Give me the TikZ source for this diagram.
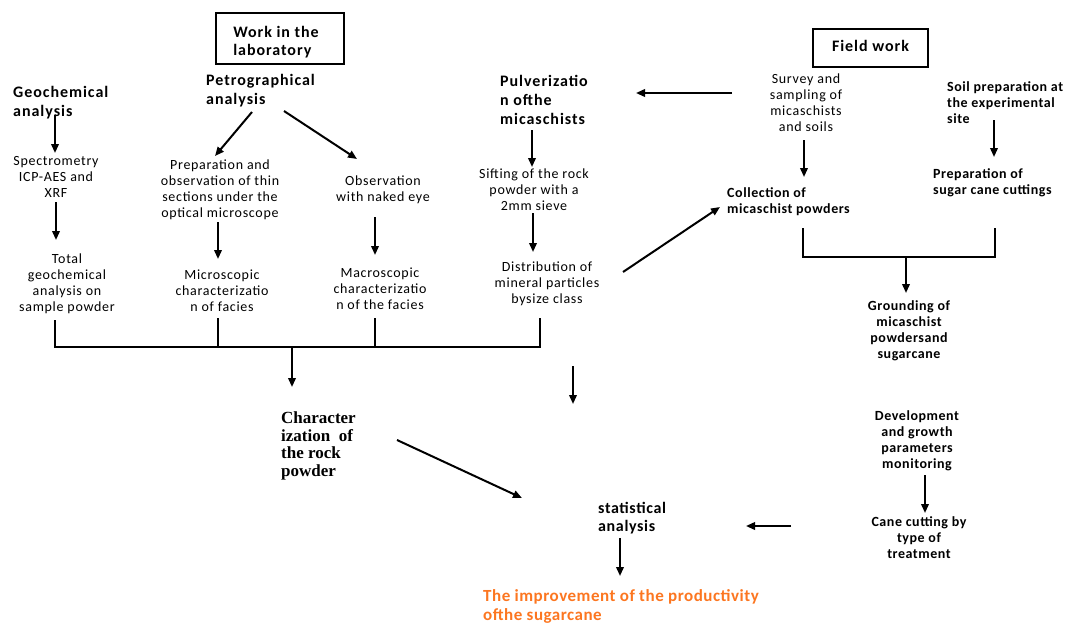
\documentclass[tikz,border=0pt]{standalone}
\usepackage{fontspec}
\usetikzlibrary{arrows.meta}
\setmainfont{Carlito}
\newfontfamily\regf[LetterSpace=5]{Carlito}
\newfontfamily\bldf[LetterSpace=4]{Carlito}
\newfontfamily\hdf[LetterSpace=6]{Carlito}
\newfontfamily\orf[LetterSpace=3]{Carlito}
\newfontfamily\serf{Liberation Serif}
\definecolor{orangetxt}{RGB}{252,118,32}
\tikzset{
  rt/.style={font=\regf\fontsize{14}{16}\selectfont, align=center, inner sep=0pt},
  bt/.style={font=\bldf\bfseries\fontsize{14}{16}\selectfont, align=center, inner sep=0pt},
  btl/.style={font=\bldf\bfseries\fontsize{14}{16}\selectfont, align=left, inner sep=0pt, anchor=west},
  ht/.style={font=\hdf\bfseries\fontsize{16}{19}\selectfont, align=left, inner sep=0pt, anchor=west},
  arr/.style={line width=2pt, -{Triangle[length=9pt,width=7.5pt]}},
  ln/.style={line width=2pt},
}
\begin{document}
\begin{tikzpicture}[x=1pt,y=-1pt]
\useasboundingbox (0,0) rectangle (1072,624);
% boxes
\node[draw, line width=2.5pt, minimum width=128pt, minimum height=51pt, inner sep=0pt,
      font=\hdf\bfseries\fontsize{16}{18}\selectfont] (lab) at (280,38.5)
      {\hspace*{-8pt}\begin{tabular}{@{}l@{}}\rule{0pt}{21pt}Work in the\\laboratory\end{tabular}};
\node[draw, line width=1.4pt, minimum width=115pt, minimum height=38pt, inner sep=0pt,
      font=\hdf\bfseries\fontsize{16}{18}\selectfont] (field) at (870.5,48) {\raisebox{5pt}{Field work}};
% left column texts
\node[ht] (geo) at (13,102.5) {Geochemical\\analysis};
\node[rt] (spec) at (56,177) {Spectrometry\\ICP-AES and\\XRF};
\node[rt] (total) at (67,284) {Total\\geochemical\\analysis on\\sample powder};
\node[ht] (petro) at (206,91) {Petrographical\\analysis};
\node[rt] (prep) at (220,190) {Preparation and\\observation of thin\\sections under the\\optical microscope};
\node[rt] (micro) at (222,291) {Microscopic\\characterizatio\\n of facies};
\node[rt] (obs) at (383,189.5) {Observation\\with naked eye};
\node[rt] (macro) at (380,289) {Macroscopic\\characterizatio\\n of the facies};
\node[ht] (pulv) at (500,99.5) {Pulverizatio\\n ofthe\\micaschists};
\node[rt] (sift) at (534,190) {Sifting of the rock\\powder with a\\2mm sieve};
\node[rt] (distr) at (547,284) {Distribution of\\mineral particles\\bysize class};
\node[font=\serf\bfseries\fontsize{17}{17.5}\selectfont, align=left, inner sep=0pt, anchor=west] (charz) at (281,446) {Character\\ization~ of\\the rock\\powder};
\node[font=\bldf\bfseries\fontsize{16}{18}\selectfont, align=left, inner sep=0pt, anchor=west] (stat) at (598,518) {statistical\\analysis};
\node[font=\orf\bfseries\fontsize{17}{19.5}\selectfont, align=left, inner sep=0pt, anchor=west, text=orangetxt] (impr) at (483,606.5) {The improvement of the productivity\\ofthe sugarcane};
% right side texts
\node[rt] (survey) at (806,103) {Survey and\\sampling of\\micaschists\\and soils};
\node[btl] (coll) at (727,201.5) {Collection of\\micaschist powders};
\node[btl] (soil) at (947,103) {Soil preparation at\\the experimental\\site};
\node[btl] (prepc) at (933,183) {Preparation of\\sugar cane cuttings};
\node[bt] (ground) at (909,331) {Grounding of\\micaschist\\powdersand\\sugarcane};
\node[bt] (dev) at (917,440.5) {Development\\and growth\\parameters\\monitoring};
\node[bt] (cane) at (919,538) {Cane cutting by\\type of\\treatment};
% connector end points
\coordinate (g1) at (55,115); \coordinate (g2) at (55,153);
\coordinate (s1) at (56,202); \coordinate (s2) at (56,240);
\coordinate (p1) at (252,112); \coordinate (p2) at (215,156);
\coordinate (p3) at (284,111); \coordinate (p4) at (357,159);
\coordinate (m1) at (218,222); \coordinate (m2) at (218,259);
\coordinate (o1) at (375,217); \coordinate (o2) at (375,255);
\coordinate (v1) at (532,130); \coordinate (v2) at (532,167);
\coordinate (f1) at (533,213); \coordinate (f2) at (533,252);
\coordinate (d1) at (623,272); \coordinate (d2) at (720,207);
\coordinate (u1) at (732,93);  \coordinate (u2) at (636,93);
\coordinate (c1) at (804,140); \coordinate (c2) at (804,177);
\coordinate (e1) at (994,120); \coordinate (e2) at (994,157);
\coordinate (b1) at (906,257); \coordinate (b2) at (906,293);
\coordinate (k1) at (292,347); \coordinate (k2) at (292,387);
\coordinate (x1) at (573,366); \coordinate (x2) at (573,404);
\coordinate (r1) at (397,440); \coordinate (r2) at (522,498);
\coordinate (t1) at (925,475); \coordinate (t2) at (925,513);
\coordinate (h1) at (791,526); \coordinate (h2) at (746,526);
\coordinate (a1) at (620,538); \coordinate (a2) at (620,576);
% bracket coordinates
\coordinate (L1) at (55,320); \coordinate (L2) at (55,347);
\coordinate (L3) at (218,318); \coordinate (L4) at (218,347);
\coordinate (L5) at (375,318); \coordinate (L6) at (375,347);
\coordinate (L7) at (540,318); \coordinate (L8) at (540,347);
\coordinate (R1) at (803,228); \coordinate (R2) at (803,257);
\coordinate (R3) at (995,228); \coordinate (R4) at (995,257);
% arrows
\foreach \a/\b in {g1/g2,s1/s2,p1/p2,p3/p4,m1/m2,o1/o2,v1/v2,f1/f2,d1/d2,u1/u2,c1/c2,e1/e2,b1/b2,k1/k2,x1/x2,r1/r2,t1/t2,h1/h2,a1/a2}
  \draw[arr] (\a) -- (\b);
% brackets
\draw[ln] (L1) -- (L2) -- (L8) -- (L7);
\draw[ln] (L3) -- (L4);
\draw[ln] (L5) -- (L6);
\draw[ln] (R1) -- (R2) -- (R4) -- (R3);
\end{tikzpicture}
\end{document}
